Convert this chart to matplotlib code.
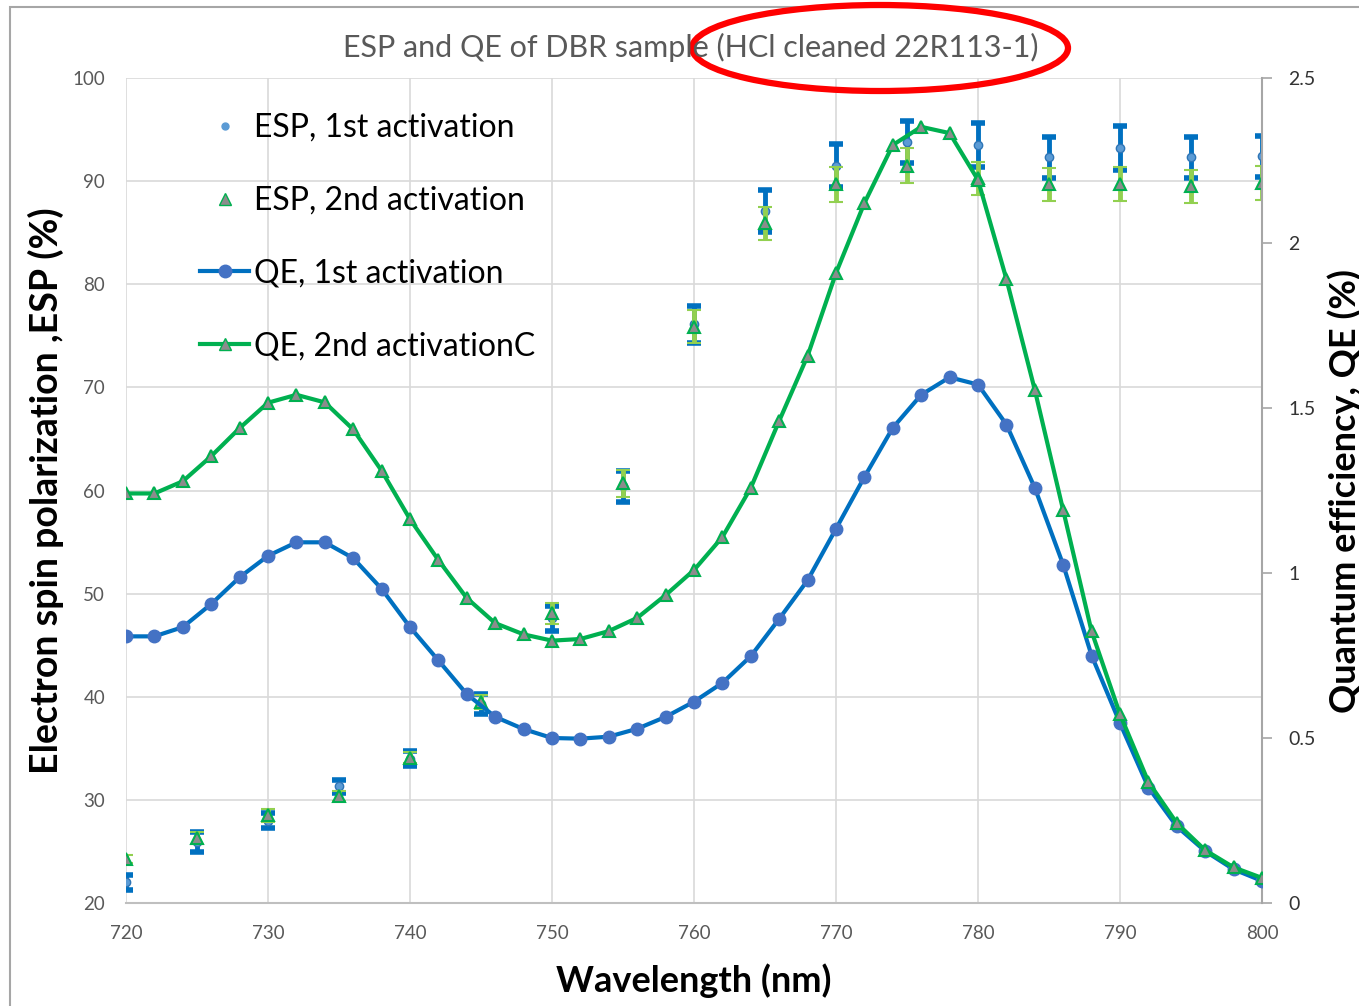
import matplotlib
matplotlib.use("Agg")
import matplotlib.pyplot as plt
from matplotlib.lines import Line2D
from matplotlib.patches import Ellipse, Rectangle

plt.rcParams['font.family'] = ['Lato', 'DejaVu Sans']

# QE, scanned every 2 nm
qe_wl = [720, 722, 724, 726, 728, 730, 732, 734, 736, 738, 740, 742, 744, 746,
         748, 750, 752, 754, 756, 758, 760, 762, 764, 766, 768, 770, 772, 774,
         776, 778, 780, 782, 784, 786, 788, 790, 792, 794, 796, 798, 800]
qe_1st = [0.808, 0.808, 0.836, 0.906, 0.987, 1.052, 1.093, 1.093, 1.045, 0.952,
          0.836, 0.735, 0.633, 0.564, 0.527, 0.500, 0.498, 0.504, 0.528, 0.564,
          0.610, 0.667, 0.748, 0.861, 0.978, 1.134, 1.291, 1.440, 1.540, 1.593,
          1.571, 1.450, 1.258, 1.025, 0.750, 0.545, 0.350, 0.232, 0.157, 0.102,
          0.067]
qe_2nd = [1.241, 1.241, 1.278, 1.354, 1.439, 1.516, 1.540, 1.517, 1.435, 1.310,
          1.163, 1.039, 0.924, 0.848, 0.814, 0.795, 0.800, 0.824, 0.864, 0.933,
          1.009, 1.109, 1.258, 1.461, 1.658, 1.909, 2.121, 2.297, 2.352, 2.333,
          2.191, 1.891, 1.555, 1.190, 0.823, 0.572, 0.367, 0.242, 0.160, 0.108,
          0.076]

# ESP, every 5 nm
esp_wl = [720, 725, 730, 735, 740, 745, 750, 755, 760, 765, 770, 775, 780, 785,
          790, 795, 800]
esp_1st = [22.0, 25.9, 28.0, 31.3, 34.0, 39.3, 47.6, 60.4, 76.1, 87.1, 91.5,
           93.8, 93.5, 92.3, 93.2, 92.3, 92.4]
esp_1st_err = [0.7, 1.0, 0.7, 0.6, 0.7, 1.0, 1.2, 1.5, 1.8, 2.0, 2.1, 2.0, 2.1,
               2.0, 2.1, 2.0, 2.0]
esp_2nd = [24.3, 26.3, 28.5, 30.4, 34.1, 39.5, 48.1, 60.7, 75.9, 85.9, 89.7,
           91.5, 90.3, 89.7, 89.7, 89.5, 89.8]
esp_2nd_err = [0.4, 0.6, 0.6, 0.5, 0.5, 0.7, 1.0, 1.3, 1.6, 1.6, 1.7, 1.7, 1.6,
               1.6, 1.65, 1.6, 1.65]

W, H = 1359, 1006
fig = plt.figure(figsize=(W / 100, H / 100), dpi=100)
ax = fig.add_axes([126 / W, 1 - 903 / H, (1262 - 126) / W, (903 - 78) / H])
ax2 = ax.twinx()

grey_txt = '#595959'
grid_c = '#D9D9D9'

# ESP points with error bars
ax.errorbar(esp_wl, esp_1st, yerr=esp_1st_err, fmt='o', ms=6,
            color='#5B9BD5', mec='#2E75B6', ecolor='#0070C0',
            elinewidth=3.5, capsize=5, capthick=4, zorder=3)
ax.errorbar(esp_wl, esp_2nd, yerr=esp_2nd_err, fmt='^', ms=8,
            mfc='#8C8C8C', mec='#00B050', mew=1.5, ecolor='#92D050',
            elinewidth=3.5, capsize=5, capthick=4, zorder=4)

ax.set_xlim(720, 800)
ax.set_ylim(20, 100)
ax.set_xticks(range(720, 801, 10))
ax.set_yticks(range(20, 101, 10))
ax.grid(True, color=grid_c, lw=1.2)
ax.set_axisbelow(True)
ax.tick_params(axis='both', length=0, labelsize=13.5, colors=grey_txt)
ax.tick_params(axis='y', pad=15)
ax.tick_params(axis='x', pad=16)
for s in ['top', 'right', 'left']:
    ax.spines[s].set_visible(False)
ax.spines['bottom'].set_color('#BFBFBF')
ax.spines['bottom'].set_linewidth(1.5)

# QE curves on the right axis
ax2.plot(qe_wl, qe_1st, '-o', color='#0070C0', lw=3, ms=9,
         mfc='#4472C4', mec='#4472C4', zorder=3)
ax2.plot(qe_wl, qe_2nd, '-^', color='#00B050', lw=3, ms=9,
         mfc='#8C8C8C', mec='#00B050', mew=1.5, zorder=3)
ax2.set_ylim(0, 2.5)
ax2.set_yticks([0, 0.5, 1, 1.5, 2, 2.5])
ax2.set_yticklabels(['0', '0.5', '1', '1.5', '2', '2.5'])
ax2.tick_params(axis='y', direction='out', length=7, width=1.2,
                color='#A6A6A6', labelsize=14, labelcolor='#333333', pad=12)
for s in ['top', 'left', 'bottom']:
    ax2.spines[s].set_visible(False)
ax2.spines['right'].set_color('#A6A6A6')
ax2.spines['right'].set_linewidth(1.5)

ax.set_xlabel('Wavelength (nm)', fontsize=26, fontweight='bold', labelpad=15)
ax.set_ylabel('Electron spin polarization ,ESP (%)', fontsize=27,
              fontweight='bold', labelpad=6)
ax2.set_ylabel('Quantum efficiency, QE (%)', fontsize=26, fontweight='bold',
               rotation=90, labelpad=8)

fig.text(691 / W, 1 - 47 / H, 'ESP and QE of DBR sample (HCl cleaned 22R113-1)',
         ha='center', va='center', fontsize=22, color=grey_txt)

handles = [
    Line2D([], [], ls='none', marker='o', ms=5, color='#5B9BD5'),
    Line2D([], [], ls='none', marker='^', ms=8, mfc='#8C8C8C', mec='#00B050'),
    Line2D([], [], color='#0070C0', lw=3, marker='o', ms=9, mfc='#4472C4',
           mec='#4472C4'),
    Line2D([], [], color='#00B050', lw=3, marker='^', ms=9, mfc='#8C8C8C',
           mec='#00B050'),
]
labels = ['ESP, 1st activation', 'ESP, 2nd activation', 'QE, 1st activation',
          'QE, 2nd activationC']
ax2.legend(handles, labels, loc='upper left',
           bbox_to_anchor=(184 / W, 1 - 97 / H),
           bbox_transform=fig.transFigure, frameon=False, fontsize=23,
           handlelength=1.55, handletextpad=0.15, labelspacing=1.34,
           borderpad=0)

# chart border and red highlight
fig.patches.append(Rectangle((10 / W, -0.05), 1.2, 1 - 7 / H + 0.05,
                             transform=fig.transFigure, fill=False,
                             ec='#A6A6A6', lw=1.5))
fig.patches.append(Ellipse((880 / W, 1 - 48 / H), 376 / W, 86 / H,
                           transform=fig.transFigure, fill=False,
                           ec='#FF0000', lw=4.5))

fig.savefig('out.png', dpi=100)
